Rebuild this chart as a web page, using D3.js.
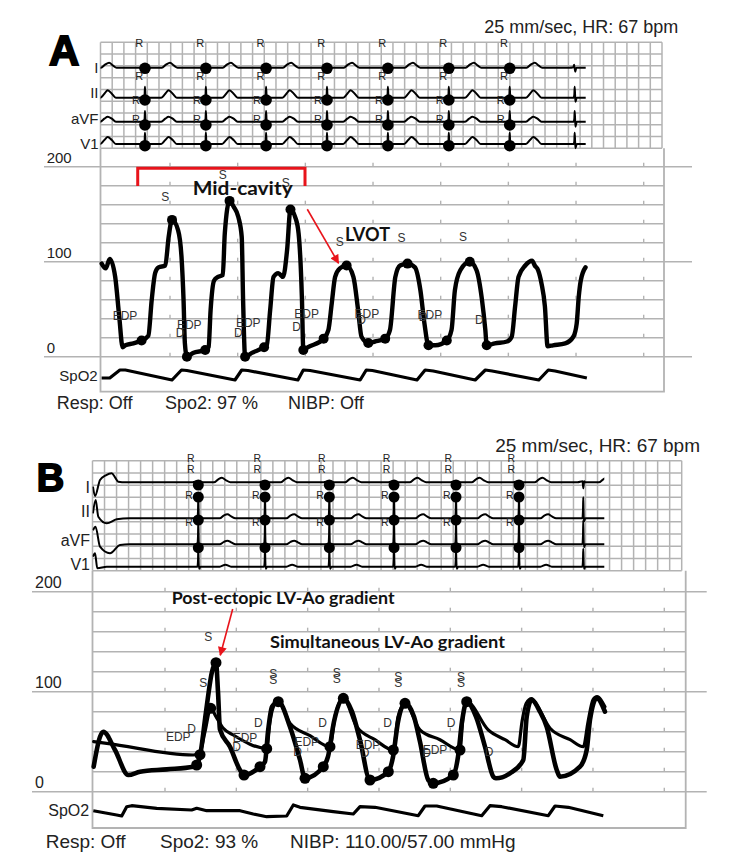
<!DOCTYPE html>
<html>
<head>
<meta charset="utf-8">
<script src="https://cdn.jsdelivr.net/npm/d3@7"></script>
<style>
  body { margin: 0; background: #fff; }
  svg { display: block; }
  text { font-family: "Liberation Sans", Arial, sans-serif; }
  text.note { font-family: Lato, "Open Sans", sans-serif; font-weight: 700; }
</style>
</head>
<body>
<svg id="chart" width="750" height="859"></svg>
<script>
// ---------- shared ----------
const leadNames = ["I", "II", "aVF", "V1"];
const pressureLevels = [0, 20, 40, 60, 80, 100, 120, 140, 160, 180, 200];
const pressureLabels = [200, 100, 0];
const secondTicks = [1, 2, 3, 4, 5, 6, 7, 8];

// ---------- panel A data (time in s, pressure in mmHg) ----------
const rPeaksA = [0.63, 1.53, 2.42, 3.32, 4.22, 5.12, 6.02];
const otherBeatsA = [-0.27, 6.98];
// one beat per lead: [seconds from R, amplitude]
const beatI_A = [[-0.08,0],[-0.02,0.5],[-0.008,3],[0.008,-4],[0.025,0],[0.25,0],[0.31,3],[0.37,5],[0.43,2],[0.48,0]];
const beatII_A = [[-0.08,0],[-0.015,0],[-0.005,3],[0,11],[0.006,3],[0.012,-4],[0.03,0],[0.24,0],[0.3,4],[0.35,7.5],[0.41,4],[0.47,0]];
const beatAVF_A = [[-0.08,0],[-0.015,0],[-0.005,3],[0,10.7],[0.006,3],[0.012,-5],[0.03,0],[0.24,0],[0.3,3],[0.35,5],[0.41,3],[0.47,0]];
const beatV1_A = [[-0.08,0],[-0.015,0],[-0.005,3],[0,11.3],[0.006,3],[0.012,-4.3],[0.03,0],[0.24,0],[0.3,4],[0.35,7],[0.41,4],[0.47,0]];

const pressureA = [[-0.01,98],[0.05,93],[0.11,103],[0.19,84],[0.25,42],[0.30,10],[0.34,12],[0.46,14],[0.58,17],[0.68,22],
  [0.73,60],[0.78,88],[0.83,94],[0.93,96],[0.98,126],[1.03,144],[1.12,133],[1.17,105],[1.20,60],[1.22,14],[1.25,0],
  [1.34,4],[1.52,7],[1.57,10],[1.60,49],[1.65,80],[1.71,84],[1.78,86],[1.81,130],[1.88,164],[1.94,158],[2.01,147],
  [2.06,126],[2.08,60],[2.11,0],[2.21,4],[2.39,10],[2.43,12],[2.48,49],[2.53,84],[2.60,88],[2.67,84],[2.73,112],
  [2.78,155],[2.85,147],[2.90,130],[2.95,60],[2.97,7],[3.04,10],[3.27,19],[3.34,28],[3.39,56],[3.44,84],[3.51,93],
  [3.61,96],[3.71,84],[3.78,49],[3.83,21],[3.93,14.5],[4.03,16],[4.18,19],[4.25,28],[4.33,84],[4.40,96],[4.51,98],
  [4.62,94],[4.70,70],[4.76,35],[4.82,12],[4.92,12],[5.09,17],[5.16,28],[5.21,70],[5.29,91],[5.43,100],[5.53,91],
  [5.61,60],[5.66,28],[5.68,12],[5.80,14],[5.98,16],[6.05,21],[6.10,53],[6.15,84],[6.25,96],[6.35,101],[6.39,96],
  [6.44,91],[6.49,77],[6.54,53],[6.58,11],[6.66,12],[6.84,14],[6.96,21],[7.01,35],[7.04,63],[7.07,80],[7.14,94]];
const pressureDotsA = [[0.58,17],[1.03,144],[1.25,0],[1.52,7],[1.88,164],[2.11,0],[2.39,10],[2.78,155],[2.97,7],
  [3.27,19],[3.61,96],[3.93,14.5],[4.18,19],[4.51,98],[4.82,12],[5.09,17],[5.43,100],[5.68,12]];
const sLabelsA = [[0.93,168],[1.78,191],[2.71,182.5],[3.51,121],[4.42,124.6],[5.33,125.7]];
const edpLabelsA = [[0.335,43],[1.285,33.4],[2.157,35.8],[3.02,45],[3.91,45],[4.84,44]];
const dLabelsA = [[1.15,25.3],[2.01,25.3],[2.87,31.6],[3.83,38.6],[4.74,42],[5.57,38.6]];
const spo2A = [[-0.01,4],[0.11,4],[0.26,12],[0.34,12],[1.03,2],[1.17,12],[1.25,11.5],[1.96,2],[2.06,12],[2.15,11.5],
  [2.89,2],[2.97,12],[3.07,11.5],[3.81,2],[3.90,12],[3.99,11.5],[4.65,2],[4.77,12],[4.89,11],[5.51,2],[5.66,12],
  [5.76,11],[6.45,2],[6.59,12],[6.69,11],[7.16,4]];
const footerA = ["Resp: Off", "Spo2: 97 %", "NIBP: Off"];

// ---------- panel B data ----------
const rPeaksB = [1.467, 2.402, 3.304, 4.211, 5.080, 5.963];
const otherBeatsB = [6.864];
const startI_B = [[-0.01,-4.4],[0.019,-13.7],[0.089,2.3],[0.17,7],[0.253,9],[0.3,5],[0.345,0.6],[0.45,0]];
const startII_B = [[-0.01,5],[0.028,18.3],[0.065,1.6],[0.183,-5],[0.323,-1],[0.5,0]];
const startAVF_B = [[-0.01,14],[0.026,17.6],[0.089,-2.4],[0.229,-9],[0.369,-0.7],[0.5,0]];
const startV1_B = [[-0.01,10],[0.019,13.4],[0.051,-1.6],[0.183,0],[0.5,0]];
const beatI_B = [[-0.08,0],[-0.01,1],[0,-6],[0.012,1],[0.03,0],[0.22,0],[0.28,3],[0.33,4.5],[0.39,2],[0.45,0]];
const beatII_B = [[-0.08,0],[-0.012,0],[-0.004,8],[0,21],[0.004,8],[0.01,-3],[0.03,0],[0.3,0],[0.36,3],[0.41,4],[0.46,2],[0.52,0]];
const beatAVF_B = [[-0.08,0],[-0.012,0],[-0.004,9],[0,24],[0.004,9],[0.01,-3],[0.03,0],[0.3,0],[0.36,2.5],[0.41,3.5],[0.46,2],[0.52,0]];
const beatV1_B = [[-0.08,0],[-0.012,0],[-0.004,7],[0,18],[0.004,7],[0.01,-2],[0.03,0],[0.3,0],[0.38,2],[0.46,0]];

const lvB = [[0.0,25],[0.089,55],[0.135,60],[0.299,41.7],[0.486,16.7],[0.65,20],[1.024,22.3],[1.397,25],[1.444,26.7],
  [1.491,36],[1.575,80],[1.659,120],[1.715,129],[1.743,100],[1.771,62],[1.911,45],[2.051,21.7],[2.108,16.7],
  [2.332,25],[2.402,30],[2.444,60],[2.5,85],[2.588,90],[2.752,65],[2.893,31.7],[2.963,13.4],[3.219,25],[3.285,35],
  [3.369,70],[3.5,93.4],[3.622,80],[3.734,51.7],[3.874,11.7],[4.131,20],[4.197,35],[4.267,70],[4.365,88.4],
  [4.491,75],[4.575,50],[4.691,11.7],[4.761,8.4],[5.042,16.7],[5.108,35],[5.164,70],[5.23,90],[5.36,75],[5.486,45],
  [5.603,15],[5.64,13.4],[5.836,18.4],[6.023,31.7],[6.071,75],[6.141,91.7],[6.257,80],[6.351,65],[6.492,21.7],
  [6.538,15],[6.818,25],[6.912,41.7],[6.958,71.7],[7.052,93.4],[7.168,80]];
const aoB = [[0.0,50],[0.183,48.4],[1.397,36.7],[1.491,40],[1.561,60],[1.641,83.4],[1.715,75],[1.817,63.4],[1.957,56.7],
  [2.426,43.4],[2.472,70],[2.542,88],[2.588,90],[2.752,68.4],[3.033,56],[3.313,45],[3.383,75],[3.5,93.4],[3.688,65],
  [3.943,52],[4.201,41.7],[4.267,75],[4.365,88.4],[4.575,61.7],[4.855,52],[5.136,41.7],[5.178,75],[5.23,90],
  [5.533,61.7],[5.767,52],[5.953,45],[6.005,70],[6.061,88],[6.141,93],[6.201,88],[6.398,63.4],[6.679,52],
  [6.865,45],[6.931,70],[7.001,92],[7.057,95],[7.168,85]];
const pressureDotsB = [[1.444,26.7],[1.491,37],[1.641,83.4],[1.715,129],[2.108,16.7],[2.332,25],[2.426,43],[2.588,90],
  [2.963,13.4],[3.219,25],[3.313,45],[3.5,93.4],[3.874,11.7],[4.131,20],[4.201,41.7],[4.365,88.4],[4.761,8.4],
  [5.042,16.7],[5.136,41.7],[5.23,90]];
const sLabelsB = [[1.607,155],[1.537,108.4],[2.518,118],[2.518,112],[3.407,118.5],[3.407,112.5],[4.271,114.5],
  [4.271,108.5],[5.15,114.5],[5.15,108.5]];
const edpLabelsB = [[1.186,55],[2.122,53.4],[2.987,50],[3.846,46.7],[4.785,41.7]];
const dLabelsB = [[1.374,62.4],[2.308,68.4],[2.005,45],[3.211,68.4],[2.86,40],[3.804,38.7],[4.122,68.4],[4.669,38.4],
  [5.01,68.4],[5.542,40]];
const spo2B = [[-0.005,9.3],[0.323,5],[0.393,4],[0.463,13.3],[0.533,14.3],[0.884,11.7],[1.374,10],[1.444,11.7],
  [1.585,9.3],[2.052,9.3],[2.238,6],[2.426,3.3],[2.706,4],[2.799,15],[2.893,12.7],[3.359,8.3],[3.64,6],[3.734,13.3],
  [3.944,12.7],[4.551,4.3],[4.645,14],[4.809,14],[5.44,4.3],[5.556,14.3],[5.72,13.3],[6.374,4.3],[6.468,14],
  [6.654,12.7],[7.145,4.3]];
const footerB = ["Resp: Off", "Spo2: 93 %", "NIBP: 110.00/57.00 mmHg"];

const headerText = "25 mm/sec, HR: 67 bpm";

// ---------- layout ----------
const panelA = {
  letter: "A", letterPos: [49, 65], letterFont: 42,
  header: [678.3, 33], headerFont: 18,
  x: d3.scaleLinear().domain([0, 8]).range([102.33, 643.7]),
  y: d3.scaleLinear().domain([0, 200]).range([356.7, 166.7]),
  spo2: d3.scaleLinear().domain([0, 20]).range([382, 362]),
  grid: {x0: 100.5, x1: 662, y0: 42.3, y1: 148.3, cols: 48, rows: 9},
  box: {x0: 100.5, x1: 664, y1: 391.7},
  ext: [44, 692],
  baselines: [67.7, 97.7, 121.7, 144],
  traceEnd: 585.7,
  beats: [beatI_A, beatII_A, beatAVF_A, beatV1_A],
  starts: [[], [], [], []],
  rPeaks: rPeaksA, otherBeats: otherBeatsA,
  rDotY: [68.3, 100, 125, 145.7], rDotR: 5.8,
  rLabelPos: [[-5.7, 42.8], [-5.7, 76], [-9, 100], [-9, 119]], rFont: 11,
  leadLabelX: 98.5, leadLabelY: [73, 98, 124, 149], leadFont: 15,
  scaleLabelX: 46.7, scaleFont: 15,
  spo2Label: [59.3, 381], footer: footerA, footerX: [56.7, 165, 288], footerY: 409.3, footerFont: 18,
  dotR: 5
};
const panelB = {
  letter: "B", letterPos: [36.7, 490.7], letterFont: 38,
  header: [700, 451.7], headerFont: 19,
  x: d3.scaleLinear().domain([0, 8]).range([93.67, 664.3]),
  y: d3.scaleLinear().domain([0, 200]).range([791.7, 591.7]),
  spo2: d3.scaleLinear().domain([0, 20]).range([820, 800]),
  grid: {x0: 92.5, x1: 681.7, y0: 460.7, y1: 570.7, cols: 49, rows: 9},
  box: {x0: 92.5, x1: 685.7, y1: 828},
  ext: [32, 706.7],
  baselines: [482.3, 518.3, 544.3, 566.7],
  traceEnd: 604.3,
  beats: [beatI_B, beatII_B, beatAVF_B, beatV1_B],
  starts: [startI_B, startII_B, startAVF_B, startV1_B],
  rPeaks: rPeaksB, otherBeats: otherBeatsB,
  rDotY: [485, 497, 520, 547.7], rDotR: 5.5,
  rLabelPos: [[-7.6, 458.3], [-7.6, 469], [-9.3, 495], [-9.3, 521.7]], rFont: 10.5,
  leadLabelX: 90, leadLabelY: [492.7, 517.3, 545.7, 570], leadFont: 16,
  scaleLabelX: 35, scaleFont: 16,
  spo2Label: [48.3, 816], footer: footerB, footerX: [45.7, 160, 290], footerY: 848.3, footerFont: 19,
  dotR: 5.5
};

const GRID = "#b3b3b3", RED = "#e8141b", LABEL = "#333";
const svg = d3.select("#chart");
svg.append("rect").attr("width", 750).attr("height", 859).attr("fill", "#fff");

const defs = svg.append("defs");
defs.append("marker").attr("id", "arrow").attr("viewBox", "0 0 10 10")
  .attr("refX", 9).attr("refY", 5).attr("markerWidth", 10).attr("markerHeight", 9)
  .attr("markerUnits", "userSpaceOnUse").attr("orient", "auto")
  .append("path").attr("d", "M0,0 L10,5 L0,10 z").attr("fill", RED);

function buildTrace(start, beat, beatTimes) {
  const pts = start.slice();
  beatTimes.slice().sort((a, b) => a - b).forEach(r => beat.forEach(([dt, a]) => pts.push([r + dt, a])));
  return pts;
}

function drawPanel(P, id) {
  const g = svg.append("g");
  const {x, y} = P;
  const G = P.grid;
  const cw = (G.x1 - G.x0) / G.cols, ch = (G.y1 - G.y0) / G.rows;

  // ECG grid
  const grid = g.append("g").attr("stroke", GRID).attr("stroke-width", 1.5);
  grid.selectAll(".v").data(d3.range(G.cols + 1)).join("line")
    .attr("x1", i => G.x0 + i * cw).attr("x2", i => G.x0 + i * cw)
    .attr("y1", G.y0).attr("y2", G.y1);
  grid.selectAll(".h").data(d3.range(G.rows + 1)).join("line")
    .attr("x1", G.x0).attr("x2", G.x1)
    .attr("y1", i => G.y0 + i * ch).attr("y2", i => G.y0 + i * ch);

  // pressure box
  const box = g.append("g").attr("stroke", GRID).attr("stroke-width", 1.8).attr("fill", "none");
  box.append("path").attr("d", `M${P.box.x0},${G.y1}V${P.box.y1}H${P.box.x1}V${G.y1}`);

  // pressure level lines
  g.append("g").selectAll("line").data(pressureLevels).join("line")
    .attr("x1", d => pressureLabels.includes(d) ? P.ext[0] : P.box.x0)
    .attr("x2", d => pressureLabels.includes(d) ? P.ext[1] : P.box.x1)
    .attr("y1", d => y(d)).attr("y2", d => y(d))
    .attr("stroke", GRID).attr("stroke-width", 1.6);
  // second ticks on every level
  const tickData = [];
  pressureLevels.forEach(l => secondTicks.forEach(t => tickData.push([t, l])));
  g.append("g").selectAll("line").data(tickData).join("line")
    .attr("x1", d => x(d[0])).attr("x2", d => x(d[0]))
    .attr("y1", d => y(d[1])).attr("y2", d => y(d[1]) - 4)
    .attr("stroke", GRID).attr("stroke-width", 1.4);
  g.append("g").selectAll("text").data(pressureLabels).join("text")
    .attr("x", P.scaleLabelX).attr("y", d => y(d) - 4)
    .attr("font-size", P.scaleFont).attr("fill", "#222").text(d => d);

  // ECG traces
  const clipId = "clip" + id;
  defs.append("clipPath").attr("id", clipId).append("rect")
    .attr("x", G.x0).attr("y", G.y0 - 30).attr("width", P.traceEnd - G.x0).attr("height", G.y1 - G.y0 + 60);
  const beatTimes = P.rPeaks.concat(P.otherBeats);
  const ecg = g.append("g").attr("clip-path", `url(#${clipId})`);
  P.beats.forEach((beat, li) => {
    const pts = buildTrace(P.starts[li], beat, beatTimes);
    const line = d3.line().x(d => x(d[0])).y(d => P.baselines[li] - d[1]).curve(d3.curveMonotoneX);
    ecg.append("path").attr("d", line(pts)).attr("fill", "none")
      .attr("stroke", "#000").attr("stroke-width", 2).attr("stroke-linejoin", "round");
  });
  // R markers
  const rDots = [];
  P.rPeaks.forEach(r => P.rDotY.forEach(yy => rDots.push([r, yy])));
  g.append("g").selectAll("circle").data(rDots).join("circle")
    .attr("cx", d => x(d[0])).attr("cy", d => d[1]).attr("r", P.rDotR).attr("fill", "#000");
  const rLabels = [];
  P.rPeaks.forEach(r => P.rLabelPos.forEach(p => rLabels.push([r, p])));
  g.append("g").selectAll("text").data(rLabels).join("text")
    .attr("x", d => x(d[0]) + d[1][0]).attr("y", d => d[1][1])
    .attr("dominant-baseline", "central").attr("text-anchor", "middle")
    .attr("font-size", P.rFont).attr("fill", "#222").text("R");
  g.append("g").selectAll("text").data(leadNames).join("text")
    .attr("x", P.leadLabelX).attr("y", (d, i) => P.leadLabelY[i])
    .attr("text-anchor", "end").attr("font-size", P.leadFont).attr("fill", "#222").text(d => d);

  // SpO2
  g.append("path").attr("d", d3.line().x(d => x(d[0])).y(d => P.spo2(d[1]))(P.spo2Data))
    .attr("fill", "none").attr("stroke", "#000").attr("stroke-width", 3.2).attr("stroke-linejoin", "round");
  g.append("text").attr("x", P.spo2Label[0]).attr("y", P.spo2Label[1])
    .attr("font-size", P.scaleFont).attr("fill", "#222").text("SpO2");

  // header / footer / letter
  g.append("text").attr("x", P.header[0]).attr("y", P.header[1]).attr("text-anchor", "end")
    .attr("font-size", P.headerFont).attr("fill", "#222").text(headerText);
  g.append("g").selectAll("text").data(P.footer).join("text")
    .attr("x", (d, i) => P.footerX[i]).attr("y", P.footerY)
    .attr("font-size", P.footerFont).attr("fill", "#222").text(d => d);
  g.append("text").attr("x", P.letterPos[0]).attr("y", P.letterPos[1])
    .attr("font-size", P.letterFont).attr("font-weight", "bold")
    .attr("stroke", "#000").attr("stroke-width", 1.8).attr("fill", "#000").text(P.letter);
  return g;
}

function pressureLine(P, data, width) {
  return svg.append("path")
    .attr("d", d3.line().x(d => P.x(d[0])).y(d => P.y(d[1])).curve(d3.curveMonotoneX)(data))
    .attr("fill", "none").attr("stroke", "#000").attr("stroke-width", width)
    .attr("stroke-linejoin", "round").attr("stroke-linecap", "round");
}
function dots(P, data) {
  svg.append("g").selectAll("circle").data(data).join("circle")
    .attr("cx", d => P.x(d[0])).attr("cy", d => P.y(d[1])).attr("r", P.dotR).attr("fill", "#000");
}
function smallLabels(P, data, txt) {
  svg.append("g").selectAll("text").data(data).join("text")
    .attr("x", d => P.x(d[0])).attr("y", d => P.y(d[1]))
    .attr("text-anchor", "middle").attr("dominant-baseline", "central")
    .attr("font-size", 12).attr("fill", LABEL).text(txt);
}
function boldNote(txt, px, py, size, width) {
  svg.append("text").attr("class", "note").attr("x", px).attr("y", py)
    .attr("font-size", size).attr("textLength", width).attr("lengthAdjust", "spacingAndGlyphs")
    .attr("fill", "#111").text(txt);
}
function redArrow(P, from, to) {
  svg.append("line")
    .attr("x1", P.x(from[0])).attr("y1", P.y(from[1])).attr("x2", P.x(to[0])).attr("y2", P.y(to[1]))
    .attr("stroke", RED).attr("stroke-width", 1.6).attr("marker-end", "url(#arrow)");
}

// ---------- draw A ----------
panelA.spo2Data = spo2A;
drawPanel(panelA, "A");
pressureLine(panelA, pressureA, 4.4);
dots(panelA, pressureDotsA);
smallLabels(panelA, sLabelsA, "S");
smallLabels(panelA, edpLabelsA, "EDP");
smallLabels(panelA, dLabelsA, "D");
// red bracket over mid-cavity beats
const bracketA = [[0.523, 179.7], [0.523, 198.3], [2.995, 198.3], [2.995, 179.7]];
svg.append("path").attr("d", d3.line().x(d => panelA.x(d[0])).y(d => panelA.y(d[1]))(bracketA))
  .attr("fill", "none").attr("stroke", RED).attr("stroke-width", 3);
boldNote("Mid-cavity", 192.7, 194.5, 19, 100);
redArrow(panelA, [3.029, 155.2], [3.49, 98.5]);
boldNote("LVOT", 345, 240.5, 19, 45);

// ---------- draw B ----------
panelB.spo2Data = spo2B;
drawPanel(panelB, "B");
pressureLine(panelB, aoB, 3.2);
pressureLine(panelB, lvB, 4.6);
dots(panelB, pressureDotsB);
smallLabels(panelB, sLabelsB, "S");
smallLabels(panelB, edpLabelsB, "EDP");
smallLabels(panelB, dLabelsB, "D");
boldNote("Post-ectopic LV-Ao gradient", 171.7, 604, 17.5, 223);
redArrow(panelB, [1.949, 182.7], [1.775, 136.5]);
boldNote("Simultaneous LV-Ao gradient", 270, 648, 17.5, 235);
</script>
</body>
</html>
